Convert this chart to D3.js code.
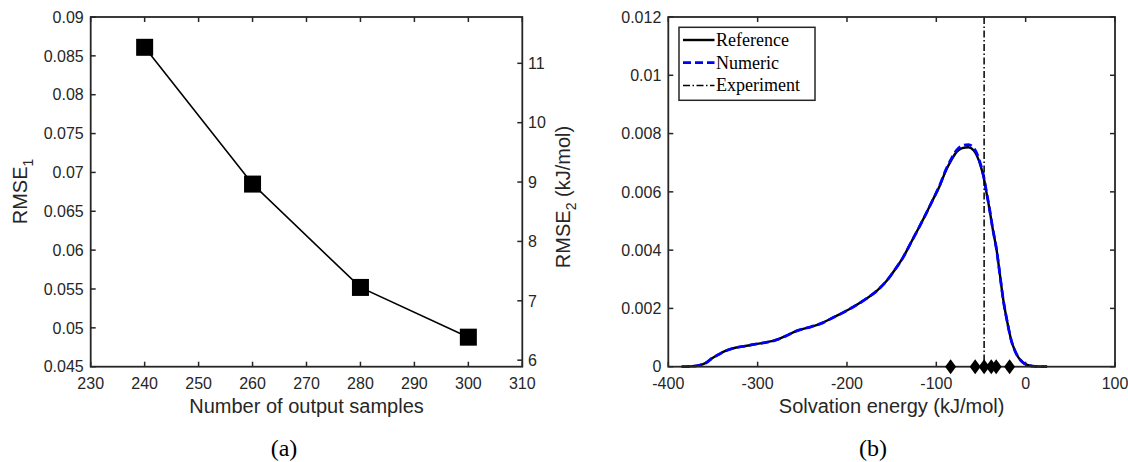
<!DOCTYPE html>
<html><head><meta charset="utf-8">
<script src="https://cdn.jsdelivr.net/npm/d3@7"></script>
<style>
body{margin:0;background:#fff;}
svg{display:block;}
</style></head>
<body>
<svg id="c" width="1128" height="462"></svg>
<script>
// ---- Data: panel (a)
const samples = [240, 260, 280, 300];
const rmse1 = [0.0861, 0.0685, 0.0552, 0.0488];
const xTicksA = [230, 240, 250, 260, 270, 280, 290, 300, 310];
const yTicksA = [0.045, 0.05, 0.055, 0.06, 0.065, 0.07, 0.075, 0.08, 0.085, 0.09];
const yTicksA2 = [6, 7, 8, 9, 10, 11];
const xDomainA = [230, 310];
const yDomainA = [0.045, 0.09];
const yDomainA2 = [5.89, 11.78];

// ---- Data: panel (b)
const energy = [-385,-375,-365,-358,-351,-343,-336,-325,-312,-299,-280,-268,-257,-245,-231,-212,-197,-179,-166,-156,-147,-137,-128,-119,-111,-104,-96,-89,-83,-77,-71,-64,-58,-54,-50,-47,-44,-41,-37,-32.5,-29,-25,-21,-16,-12,-8,-4,1,8,15,24];
const refDensity = [0,0.00001,0.00005,0.00013,0.00029,0.00043,0.00054,0.00065,0.00072,0.00079,0.00091,0.00106,0.00122,0.00133,0.00146,0.00174,0.00198,0.00232,0.00262,0.00293,0.0033,0.00376,0.00428,0.0048,0.00528,0.00572,0.00622,0.00675,0.0071,0.00738,0.0075,0.00753,0.00742,0.0072,0.00685,0.0065,0.006,0.0055,0.00475,0.004,0.0032,0.00228,0.0016,0.00089,0.00055,0.00031,0.00017,0.00007,0.00002,0.000005,0];
const numDensity = [0,0.00001,0.00005,0.00013,0.00029,0.00043,0.00054,0.00065,0.00072,0.00079,0.00091,0.00106,0.00122,0.00133,0.00146,0.00174,0.00198,0.00232,0.00262,0.00293,0.0033,0.00376,0.00428,0.0048,0.00528,0.00572,0.00624,0.00678,0.00715,0.00744,0.00758,0.00762,0.0075,0.00727,0.0069,0.00653,0.00602,0.00552,0.00476,0.004,0.0032,0.00228,0.0016,0.00089,0.00055,0.00031,0.00017,0.00007,0.00002,0.000005,0];
const experiment = -46.5;
const samplePoints = [-84, -56.5, -46.5, -38.5, -33, -18];
const xTicksB = [-400, -300, -200, -100, 0, 100];
const yTicksB = [0, 0.002, 0.004, 0.006, 0.008, 0.01, 0.012];
const xDomainB = [-400, 100];
const yDomainB = [0, 0.012];
const legendLabels = ["Reference", "Numeric", "Experiment"];

const svg = d3.select("#c");
const AX = "#262626";
const SANS = "'Liberation Sans', Arial, sans-serif";
const SERIF = "'Liberation Serif', 'Times New Roman', serif";
const TICK = 5;

function fmt(v){ return String(+v.toPrecision(6)); }

function frame(g, x, y, xt, yt, opts){
  const [x0,x1] = x.range(), [y0,y1] = [y.range()[0], y.range()[1]];
  g.append("rect").attr("x",x0).attr("y",y1).attr("width",x1-x0).attr("height",y0-y1)
    .attr("fill","none").attr("stroke",AX).attr("stroke-width",1.8);
  xt.forEach(v=>{
    const px = x(v);
    g.append("line").attr("x1",px).attr("x2",px).attr("y1",y0).attr("y2",y0-TICK).attr("stroke",AX).attr("stroke-width",1.5);
    g.append("line").attr("x1",px).attr("x2",px).attr("y1",y1).attr("y2",y1+TICK).attr("stroke",AX).attr("stroke-width",1.5);
    g.append("text").attr("x",px).attr("y",y0+22.5).attr("text-anchor","middle")
      .attr("font-family",SANS).attr("font-size",16).attr("fill",AX).text(fmt(v));
  });
  yt.forEach(v=>{
    const py = y(v);
    g.append("line").attr("x1",x0).attr("x2",x0+TICK).attr("y1",py).attr("y2",py).attr("stroke",AX).attr("stroke-width",1.5);
    if(opts.mirrorY) g.append("line").attr("x1",x1).attr("x2",x1-TICK).attr("y1",py).attr("y2",py).attr("stroke",AX).attr("stroke-width",1.5);
    g.append("text").attr("x",x0-7).attr("y",py).attr("dy","0.36em").attr("text-anchor","end")
      .attr("font-family",SANS).attr("font-size",16).attr("fill",AX).text(fmt(v));
  });
}

// ================= Panel (a)
const gA = svg.append("g");
const xA = d3.scaleLinear().domain(xDomainA).range([90.7, 522.3]);
const yA = d3.scaleLinear().domain(yDomainA).range([366.7, 17]);
const yA2 = d3.scaleLinear().domain(yDomainA2).range([366.7, 17]);
frame(gA, xA, yA, xTicksA, yTicksA, {mirrorY:false});
yTicksA2.forEach(v=>{
  const py = yA2(v);
  gA.append("line").attr("x1",522.3).attr("x2",522.3-TICK).attr("y1",py).attr("y2",py).attr("stroke",AX).attr("stroke-width",1.5);
  gA.append("text").attr("x",528).attr("y",py).attr("dy","0.36em").attr("text-anchor","start")
    .attr("font-family",SANS).attr("font-size",16).attr("fill",AX).text(fmt(v));
});
const ptsA = samples.map((s,i)=>[s, rmse1[i]]);
gA.append("path").datum(ptsA)
  .attr("d", d3.line().x(d=>xA(d[0])).y(d=>yA(d[1])))
  .attr("fill","none").attr("stroke","#000").attr("stroke-width",1.6);
const MS = 17;
gA.selectAll("rect.m").data(ptsA).enter().append("rect").attr("class","m")
  .attr("x",d=>xA(d[0])-MS/2).attr("y",d=>yA(d[1])-MS/2).attr("width",MS).attr("height",MS).attr("fill","#000");
gA.append("text").attr("x",(90.7+522.3)/2).attr("y",412.7).attr("text-anchor","middle")
  .attr("font-family",SANS).attr("font-size",20).attr("fill",AX).text("Number of output samples");
const lblL = gA.append("text").attr("transform","translate(27,191.5) rotate(-90)").attr("text-anchor","middle")
  .attr("font-family",SANS).attr("font-size",20).attr("fill",AX);
lblL.append("tspan").text("RMSE");
lblL.append("tspan").attr("font-size",14).attr("dy",6).text("1");
const lblR = gA.append("text").attr("transform","translate(570,197) rotate(-90)").attr("text-anchor","middle")
  .attr("font-family",SANS).attr("font-size",20).attr("fill",AX);
lblR.append("tspan").text("RMSE");
lblR.append("tspan").attr("font-size",14).attr("dy",6).text("2");
lblR.append("tspan").attr("dy",-6).text(" (kJ/mol)");
gA.append("text").attr("x",284).attr("y",456).attr("text-anchor","middle")
  .attr("font-family",SERIF).attr("font-size",24).attr("fill","#000").text("(a)");

// ================= Panel (b)
const gB = svg.append("g");
const xB = d3.scaleLinear().domain(xDomainB).range([668.3, 1115]);
const yB = d3.scaleLinear().domain(yDomainB).range([366.7, 17]);
const line = d3.line().x(d=>xB(d[0])).y(d=>yB(d[1])).curve(d3.curveMonotoneX);
const refPts = energy.map((e,i)=>[e, refDensity[i]]);
const numPts = energy.map((e,i)=>[e, numDensity[i]]);
gB.append("path").datum(refPts).attr("d",line).attr("fill","none").attr("stroke","#000").attr("stroke-width",2.4);
gB.append("path").datum(numPts).attr("d",line).attr("fill","none").attr("stroke","#0000ff").attr("stroke-width",2.8)
  .attr("stroke-dasharray","8,4");
gB.append("line").attr("x1",xB(experiment)).attr("x2",xB(experiment)).attr("y1",yB(0.012)).attr("y2",yB(0))
  .attr("stroke","#000").attr("stroke-width",1.5).attr("stroke-dasharray","7,2.5,1.5,2.5");
frame(gB, xB, yB, xTicksB, yTicksB, {mirrorY:true});
const dw = 5.5, dh = 7.5;
gB.selectAll("path.d").data(samplePoints).enter().append("path").attr("class","d")
  .attr("d", d=>{const cx=xB(d), cy=yB(0); return `M${cx},${cy-dh}L${cx+dw},${cy}L${cx},${cy+dh}L${cx-dw},${cy}Z`;})
  .attr("fill","#000");
gB.append("text").attr("x",(668.3+1115)/2).attr("y",412.7).attr("text-anchor","middle")
  .attr("font-family",SANS).attr("font-size",20).attr("fill",AX).text("Solvation energy (kJ/mol)");
gB.append("text").attr("x",873).attr("y",456).attr("text-anchor","middle")
  .attr("font-family",SERIF).attr("font-size",24).attr("fill","#000").text("(b)");

// legend
const lg = gB.append("g");
lg.append("rect").attr("x",679).attr("y",27.3).attr("width",136).attr("height",73)
  .attr("fill","#fff").attr("stroke",AX).attr("stroke-width",1.5);
const styles = [
  {stroke:"#000", w:2.4, dash:null},
  {stroke:"#0000ff", w:2.8, dash:"8,4"},
  {stroke:"#000", w:1.5, dash:"7,2.5,1.5,2.5"}
];
legendLabels.forEach((t,i)=>{
  const yy = 40 + i*22.7;
  lg.append("line").attr("x1",683).attr("x2",714.5).attr("y1",yy).attr("y2",yy)
    .attr("stroke",styles[i].stroke).attr("stroke-width",styles[i].w)
    .attr("stroke-dasharray",styles[i].dash);
  lg.append("text").attr("x",716).attr("y",yy).attr("dy","0.33em")
    .attr("font-family",SERIF).attr("font-size",18).attr("fill","#000").text(t);
});
</script>
</body></html>
